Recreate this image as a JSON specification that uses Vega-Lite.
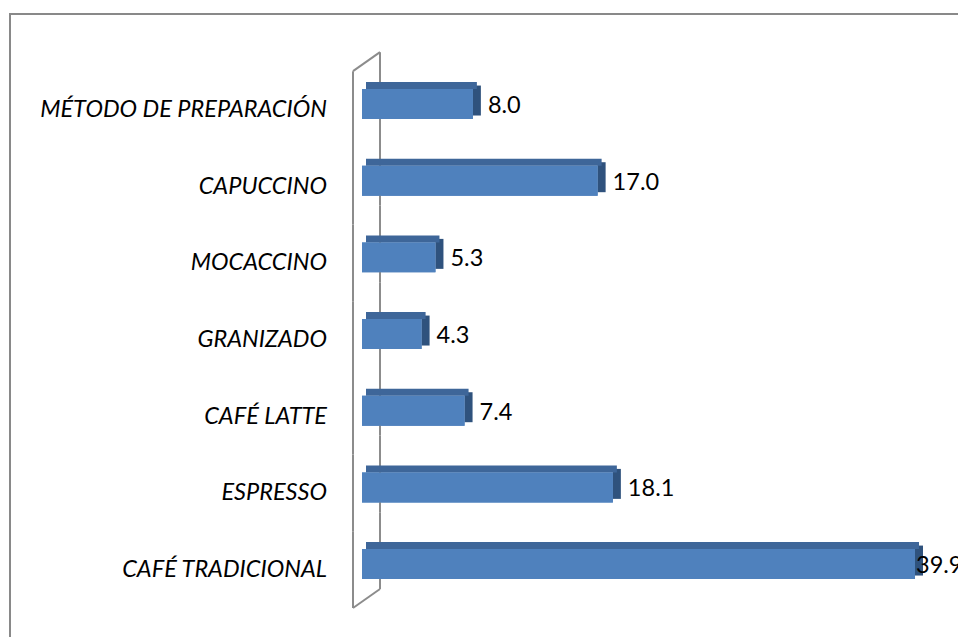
{
  "$schema": "https://vega.github.io/schema/vega-lite/v6.json",
  "width": 950,
  "height": 626,
  "autosize": "none",
  "padding": {"left": 10, "top": 14, "right": 0, "bottom": 0},
  "background": "white",
  "config": {
    "view": {"stroke": "#898989", "strokeWidth": 2}
  },
  "data": {
    "values": [
      {"cat": "MÉTODO DE PREPARACIÓN", "value": 8.0},
      {"cat": "CAPUCCINO", "value": 17.0},
      {"cat": "MOCACCINO", "value": 5.3},
      {"cat": "GRANIZADO", "value": 4.3},
      {"cat": "CAFÉ LATTE", "value": 7.4},
      {"cat": "ESPRESSO", "value": 18.1},
      {"cat": "CAFÉ TRADICIONAL", "value": 39.9}
    ]
  },
  "layer": [
    {
      "mark": {"type": "bar", "color": "#4f81bd"},
      "encoding": {
        "x": {
          "field": "value",
          "type": "quantitative",
          "scale": {"domain": [0, 40], "range": [352, 906.4], "nice": false},
          "axis": null
        },
        "y": {
          "field": "cat",
          "type": "nominal",
          "scale": {
            "domain": ["MÉTODO DE PREPARACIÓN", "CAPUCCINO", "MOCACCINO", "GRANIZADO", "CAFÉ LATTE", "ESPRESSO", "CAFÉ TRADICIONAL"],
            "range": [51.7, 588.4],
            "paddingInner": 0.609,
            "paddingOuter": 0.3045
          },
          "axis": null
        }
      }
    },
    {
      "mark": {"type": "tick", "orient": "vertical", "color": "#8c8c8c", "opacity": 1, "thickness": 2, "size": 76.8, "xOffset": -9, "yOffset": 5.5},
      "encoding": {
        "x": {"datum": 0, "type": "quantitative"},
        "y": {"field": "cat", "type": "nominal"}
      }
    },
    {
      "mark": {"type": "tick", "orient": "vertical", "color": "#8c8c8c", "opacity": 1, "thickness": 2, "size": 76.8, "xOffset": 18, "yOffset": -13.5},
      "encoding": {
        "x": {"datum": 0, "type": "quantitative"},
        "y": {"field": "cat", "type": "nominal"}
      }
    },
    {
      "transform": [{"filter": "datum.cat == 'MÉTODO DE PREPARACIÓN'"}],
      "mark": {"type": "rule", "color": "#8c8c8c", "strokeWidth": 2, "xOffset": -9, "x2Offset": 18, "yOffset": -32.9, "y2Offset": -51.9},
      "encoding": {
        "x": {"datum": 0, "type": "quantitative"},
        "x2": {"datum": 0},
        "y": {"field": "cat", "type": "nominal"},
        "y2": {"field": "cat"}
      }
    },
    {
      "transform": [{"filter": "datum.cat == 'CAFÉ TRADICIONAL'"}],
      "mark": {"type": "rule", "color": "#8c8c8c", "strokeWidth": 2, "xOffset": -9, "x2Offset": 18, "yOffset": 43.9, "y2Offset": 24.9},
      "encoding": {
        "x": {"datum": 0, "type": "quantitative"},
        "x2": {"datum": 0},
        "y": {"field": "cat", "type": "nominal"},
        "y2": {"field": "cat"}
      }
    },
    {
      "mark": {"type": "bar", "color": "#2f527d", "x2Offset": 8, "yOffset": -3.5, "y2Offset": -3.5},
      "encoding": {
        "x": {"field": "value", "type": "quantitative"},
        "x2": {"field": "value"},
        "y": {"field": "cat", "type": "nominal"}
      }
    },
    {
      "mark": {"type": "bar", "color": "#3e6699", "size": 7, "xOffset": 4, "x2Offset": 4, "yOffset": -18.5, "y2Offset": -18.5},
      "encoding": {
        "x": {"field": "value", "type": "quantitative"},
        "y": {"field": "cat", "type": "nominal"}
      }
    },
    {
      "mark": {"type": "bar", "color": "#4f81bd"},
      "encoding": {
        "x": {"field": "value", "type": "quantitative"},
        "y": {"field": "cat", "type": "nominal"}
      }
    },
    {
      "mark": {"type": "text", "align": "right", "baseline": "middle", "dx": -35, "dy": 6, "font": "Lato", "fontStyle": "italic", "fontSize": 23.5, "color": "#000000"},
      "encoding": {
        "x": {"datum": 0, "type": "quantitative"},
        "y": {"field": "cat", "type": "nominal"},
        "text": {"field": "cat", "type": "nominal"}
      }
    },
    {
      "transform": [{"filter": "datum.value < 39"}],
      "mark": {"type": "text", "align": "left", "baseline": "middle", "dx": 15, "dy": 2, "font": "Lato", "fontSize": 23.5, "color": "#000000"},
      "encoding": {
        "x": {"field": "value", "type": "quantitative"},
        "y": {"field": "cat", "type": "nominal"},
        "text": {"field": "value", "type": "quantitative", "format": ".1f"}
      }
    },
    {
      "transform": [{"filter": "datum.value >= 39"}],
      "mark": {"type": "text", "align": "left", "baseline": "middle", "dx": 1, "dy": 2, "font": "Lato", "fontSize": 23.5, "color": "#000000"},
      "encoding": {
        "x": {"field": "value", "type": "quantitative"},
        "y": {"field": "cat", "type": "nominal"},
        "text": {"field": "value", "type": "quantitative", "format": ".1f"}
      }
    }
  ]
}
